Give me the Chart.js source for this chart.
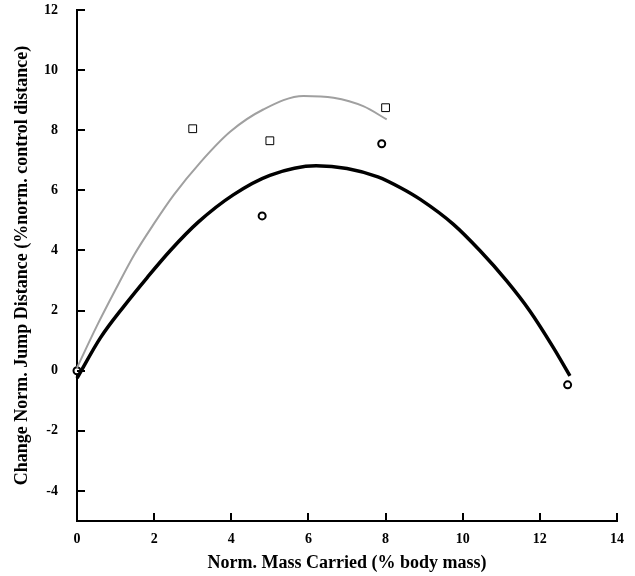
<!DOCTYPE html>
<html>
<head>
<meta charset="utf-8">
<script src="https://cdn.jsdelivr.net/npm/chart.js@4/dist/chart.umd.min.js"></script>
<style>
  html, body { margin: 0; padding: 0; background: #fff; }
  #wrap { width: 635px; height: 576px; }
</style>
</head>
<body>
<div id="wrap"><canvas id="jumpChart" width="635" height="576"></canvas></div>
<script>
// Points
const squareX = [3.0, 5.0, 8.0];
const squareY = [8.05, 7.65, 8.75];
const circleX = [0, 4.8, 7.9, 12.72];
const circleY = [0, 5.15, 7.55, -0.47];

// Fitted curves (traced)
const grayCurveX = [0, 0.5, 1.0, 1.48, 2.0, 2.51, 3.21, 3.97, 4.83, 5.87, 6.65, 7.42, 8.03];
const grayCurveY = [0.1, 1.45, 2.7, 3.85, 4.9, 5.85, 6.95, 7.95, 8.69, 9.14, 9.08, 8.8, 8.36];
const blackCurveX = [0, 0.61, 1.22, 1.82, 2.42, 3.15, 4.05, 5.0, 6.2, 7.0, 7.8, 8.4, 8.9, 9.76, 10.45, 11.14, 11.74, 12.35, 12.78];
const blackCurveY = [-0.25, 1.1, 2.15, 3.1, 4.0, 4.95, 5.85, 6.5, 6.82, 6.73, 6.45, 6.08, 5.7, 4.87, 3.99, 2.99, 1.99, 0.77, -0.17];

const xTicks = [0, 2, 4, 6, 8, 10, 12, 14];
const yTicks = [-4, -2, 0, 2, 4, 6, 8, 10, 12];

const toPts = (xs, ys) => xs.map((x, i) => ({ x: x, y: ys[i] }));
const serif = "'Liberation Serif', 'DejaVu Serif', serif";

// Tick marks point into the plot, so draw them ourselves
const innerTicks = {
    id: 'innerTicks',
    afterDatasetsDraw(chart) {
        const ctx = chart.ctx;
        const xs = chart.scales.x, ys = chart.scales.y;
        const len = 8;
        ctx.save();
        ctx.strokeStyle = '#000';
        ctx.lineWidth = 2;
        ctx.beginPath();
        xTicks.forEach(v => {
            const px = Math.round(xs.getPixelForValue(v));
            ctx.moveTo(px, ys.bottom);
            ctx.lineTo(px, ys.bottom - len);
        });
        yTicks.forEach(v => {
            const py = Math.round(ys.getPixelForValue(v));
            ctx.moveTo(xs.left, py);
            ctx.lineTo(xs.left + len, py);
        });
        ctx.stroke();
        ctx.restore();
    }
};

const ctx = document.getElementById('jumpChart').getContext('2d');
new Chart(ctx, {
    type: 'scatter',
    data: {
        datasets: [
            {
                label: 'gray fit',
                data: toPts(grayCurveX, grayCurveY),
                showLine: true,
                borderColor: '#a0a0a0',
                borderWidth: 2,
                pointRadius: 0,
                cubicInterpolationMode: 'monotone',
                clip: false
            },
            {
                label: 'black fit',
                data: toPts(blackCurveX, blackCurveY),
                showLine: true,
                borderColor: '#000',
                borderWidth: 3.5,
                pointRadius: 0,
                cubicInterpolationMode: 'monotone',
                clip: false
            },
            {
                label: 'squares',
                data: toPts(squareX, squareY),
                pointStyle: 'rect',
                pointRadius: 5.5,
                borderColor: '#000',
                borderWidth: 1,
                backgroundColor: '#fff',
                clip: false
            },
            {
                label: 'circles',
                data: toPts(circleX, circleY),
                pointStyle: 'circle',
                pointRadius: 3.5,
                borderColor: '#000',
                borderWidth: 2,
                backgroundColor: '#fff',
                clip: false
            }
        ]
    },
    options: {
        responsive: false,
        animation: false,
        events: [],
        layout: { padding: { top: 10, right: 18, bottom: 0, left: 0 } },
        plugins: {
            legend: { display: false },
            tooltip: { enabled: false }
        },
        scales: {
            x: {
                type: 'linear',
                min: 0,
                max: 14,
                afterBuildTicks: s => { s.ticks = xTicks.map(v => ({ value: v })); },
                afterFit: s => { s.height = 55; s.paddingLeft = 0; s.paddingRight = 0; },
                grid: { display: false, drawTicks: false },
                border: { display: true, color: '#000', width: 2 },
                ticks: { padding: 10, color: '#000', font: { family: serif, size: 14, weight: 'bold' } },
                title: {
                    display: true,
                    text: 'Norm. Mass Carried (% body mass)',
                    color: '#000',
                    font: { family: serif, size: 18, weight: 'bold' },
                    padding: { top: 0, bottom: 2 }
                }
            },
            y: {
                type: 'linear',
                min: -5,
                max: 12,
                afterBuildTicks: s => { s.ticks = yTicks.map(v => ({ value: v })); },
                afterFit: s => { s.width = 77; s.paddingTop = 0; s.paddingBottom = 0; },
                grid: { display: false, drawTicks: false },
                border: { display: true, color: '#000', width: 2 },
                ticks: { padding: 19, color: '#000', font: { family: serif, size: 14, weight: 'bold' } },
                title: {
                    display: true,
                    text: 'Change Norm. Jump Distance (%norm. control distance)',
                    color: '#000',
                    font: { family: serif, size: 18, weight: 'bold' },
                    padding: { top: 12, bottom: 0 }
                }
            }
        }
    },
    plugins: [innerTicks]
});
</script>
</body>
</html>
